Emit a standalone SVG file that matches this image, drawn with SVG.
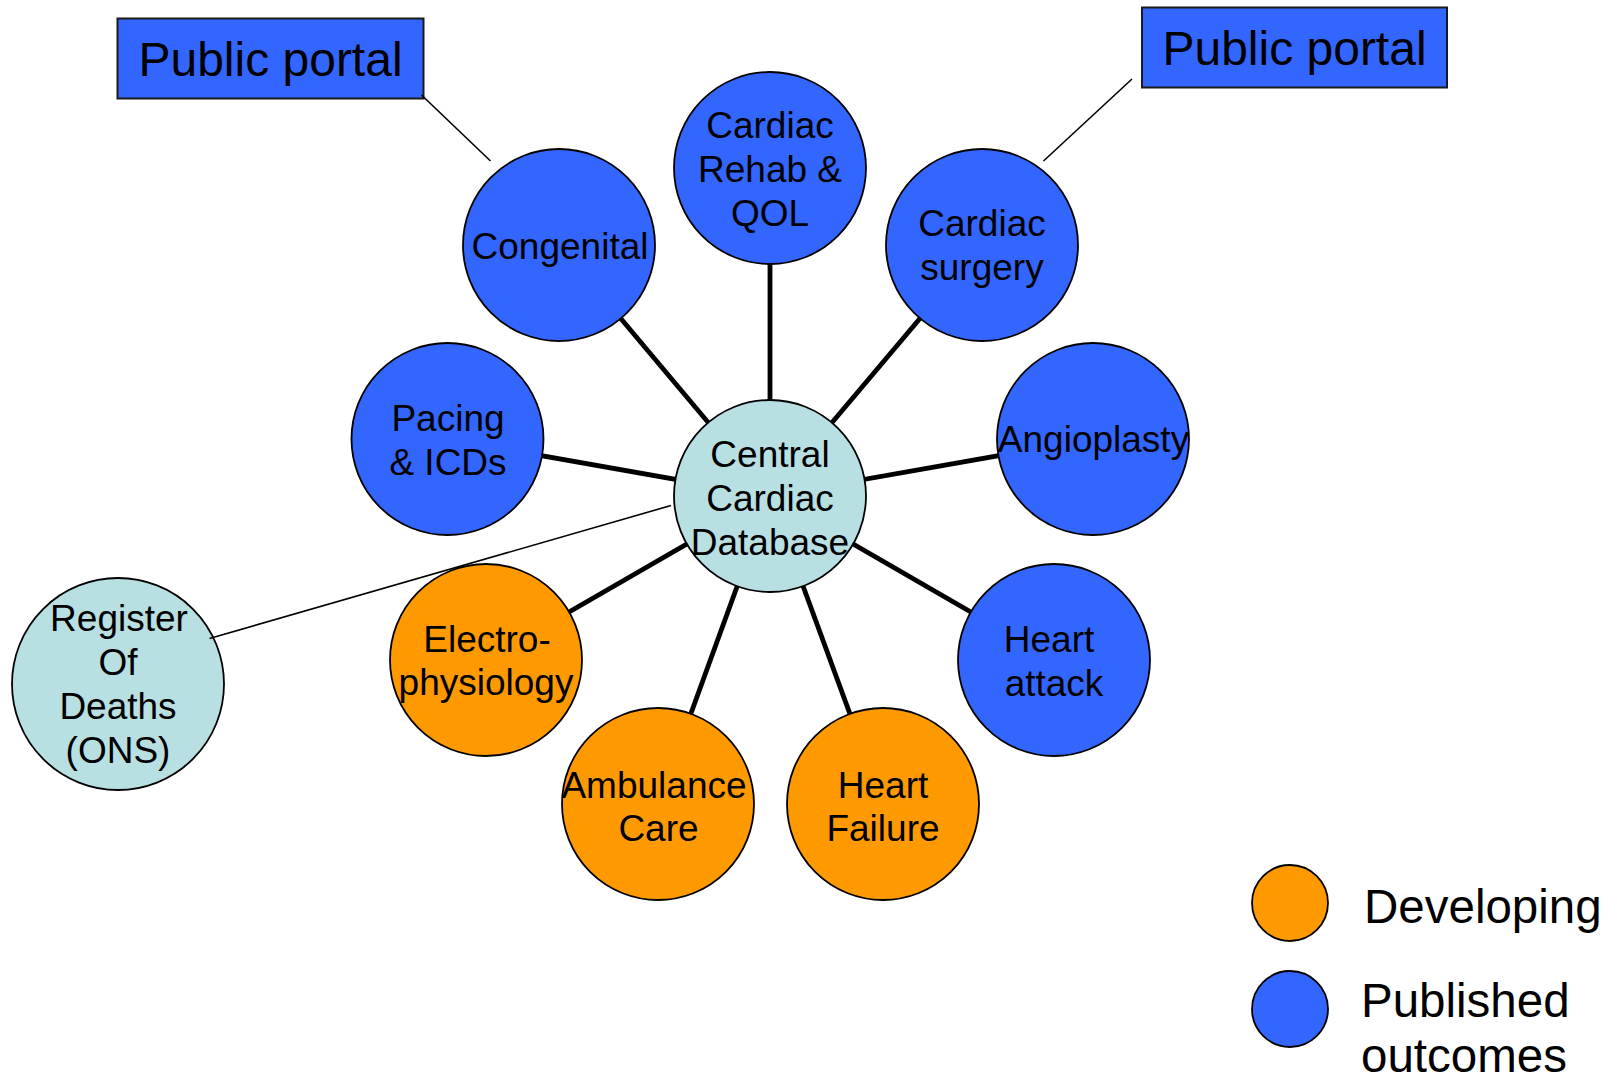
<svg xmlns="http://www.w3.org/2000/svg" width="1617" height="1078" viewBox="0 0 1617 1078">
<style>
  text { font-family: "Liberation Sans", Arial, sans-serif; fill: #000; text-anchor: middle; }
  .lbl { font-size: 37px; }
  .big { font-size: 48px; }
  .leg { font-size: 47.5px; text-anchor: start; }
  .blue { fill: #3366FF; stroke: #000; stroke-width: 1.8; }
  .orange { fill: #FF9900; stroke: #000; stroke-width: 1.8; }
  .pale { fill: #B8DFE2; stroke: #000; stroke-width: 1.8; }
  .box { fill: #3366FF; stroke: #1a1a1a; stroke-width: 2; }
  .thick { stroke: #000; stroke-width: 4.8; fill: none; }
  .thin { stroke: #000; stroke-width: 1.6; fill: none; }
</style>
<rect width="1617" height="1078" fill="#fff"/>
<g id="connectors">
  <line class="thick" x1="770" y1="496" x2="559" y2="245"/>
  <line class="thick" x1="770" y1="496" x2="770" y2="168"/>
  <line class="thick" x1="770" y1="496" x2="982" y2="245"/>
  <line class="thick" x1="770" y1="496" x2="447.5" y2="439"/>
  <line class="thick" x1="770" y1="496" x2="1093" y2="439"/>
  <line class="thick" x1="770" y1="496" x2="486" y2="660"/>
  <line class="thick" x1="770" y1="496" x2="1054" y2="660"/>
  <line class="thick" x1="770" y1="496" x2="658" y2="804"/>
  <line class="thick" x1="770" y1="496" x2="883" y2="804"/>
</g>
<g id="portal-left">
  <rect class="box" x="117.5" y="18.5" width="306" height="80"/>
  <text class="big" x="270.5" y="76">Public portal</text>
</g>
<g id="portal-right">
  <rect class="box" x="1142" y="7.5" width="305" height="80"/>
  <text class="big" x="1294.5" y="65">Public portal</text>
</g>
<g id="central">
  <circle class="pale" cx="770" cy="496" r="96"/>
  <text class="lbl" x="770" y="467">Central</text>
  <text class="lbl" x="770" y="511">Cardiac</text>
  <text class="lbl" x="770" y="555">Database</text>
</g>
<g id="congenital">
  <circle class="blue" cx="559" cy="245" r="96"/>
  <text class="lbl" x="560" y="259">Congenital</text>
</g>
<g id="rehab">
  <circle class="blue" cx="770" cy="168" r="96"/>
  <text class="lbl" x="770" y="138">Cardiac</text>
  <text class="lbl" x="770" y="182">Rehab &amp;</text>
  <text class="lbl" x="770" y="226">QOL</text>
</g>
<g id="surgery">
  <circle class="blue" cx="982" cy="245" r="96"/>
  <text class="lbl" x="982" y="236">Cardiac</text>
  <text class="lbl" x="982" y="280">surgery</text>
</g>
<g id="pacing">
  <circle class="blue" cx="447.5" cy="439" r="96"/>
  <text class="lbl" x="448" y="431">Pacing</text>
  <text class="lbl" x="448" y="475">&amp; ICDs</text>
</g>
<g id="angioplasty">
  <circle class="blue" cx="1093" cy="439" r="96"/>
  <text class="lbl" x="1093.5" y="452">Angioplasty</text>
</g>
<g id="electro">
  <circle class="orange" cx="486" cy="660" r="96"/>
  <text class="lbl" x="487" y="652">Electro-</text>
  <text class="lbl" x="486" y="695">physiology</text>
</g>
<g id="heart-attack">
  <circle class="blue" cx="1054" cy="660" r="96"/>
  <text class="lbl" x="1049" y="652">Heart</text>
  <text class="lbl" x="1054" y="696">attack</text>
</g>
<g id="ambulance">
  <circle class="orange" cx="658" cy="804" r="96"/>
  <text class="lbl" x="654" y="798">Ambulance</text>
  <text class="lbl" x="658.5" y="841">Care</text>
</g>
<g id="heart-failure">
  <circle class="orange" cx="883" cy="804" r="96"/>
  <text class="lbl" x="883" y="798">Heart</text>
  <text class="lbl" x="883" y="841">Failure</text>
</g>
<g id="register">
  <circle class="pale" cx="118" cy="684" r="106"/>
  <text class="lbl" x="119" y="631">Register</text>
  <text class="lbl" x="118" y="675">Of</text>
  <text class="lbl" x="118" y="719">Deaths</text>
  <text class="lbl" x="118" y="763">(ONS)</text>
</g>
<g id="thin-connectors">
  <line class="thin" x1="421.5" y1="95" x2="490.5" y2="161"/>
  <line class="thin" x1="1132" y1="79" x2="1043.5" y2="161"/>
  <line class="thin" x1="209.5" y1="638.5" x2="671" y2="505.5"/>
</g>
<g id="legend">
  <circle class="orange" cx="1290" cy="903" r="38"/>
  <text class="leg" x="1364" y="923">Developing</text>
  <circle class="blue" cx="1290" cy="1009" r="38"/>
  <text class="leg" x="1361" y="1017">Published</text>
  <text class="leg" x="1361" y="1072">outcomes</text>
</g>
</svg>
